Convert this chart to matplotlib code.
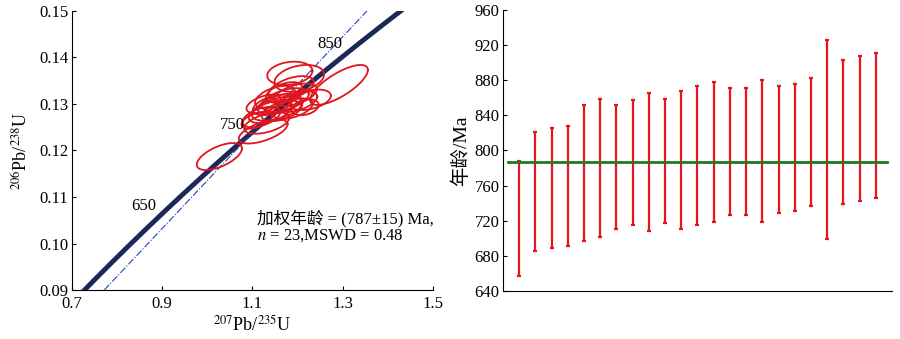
import numpy as np
import matplotlib
matplotlib.use("Agg")
import matplotlib.pyplot as plt

plt.rcParams['font.family'] = ['Liberation Serif', 'Noto Sans CJK SC']
plt.rcParams['mathtext.fontset'] = 'stix'
plt.rcParams['axes.unicode_minus'] = False

# --- left panel: concordia diagram ---
lam238 = 1.55125e-10
lam235 = 9.8485e-10
concordia_ages = [650, 750, 850]  # Ma, labelled points

# error ellipses: centre x (207/235), centre y (206/238), half widths, correlation
ell_x = [1.027, 1.124, 1.132, 1.120, 1.155, 1.140, 1.228, 1.217, 1.173, 1.160, 1.186, 1.183,
         1.204, 1.292, 1.150, 1.195, 1.170, 1.145, 1.200, 1.125, 1.110, 1.190, 1.165]
ell_y = [0.1187, 0.1241, 0.1259, 0.1272, 0.1290, 0.1283, 0.1309, 0.1293, 0.1309, 0.1300, 0.1334, 0.1366,
         0.1355, 0.1341, 0.1315, 0.1320, 0.1325, 0.1298, 0.1305, 0.1300, 0.1265, 0.1290, 0.1285]
ell_sx = [0.050, 0.054, 0.050, 0.042, 0.056, 0.048, 0.046, 0.030, 0.052, 0.048, 0.050, 0.050,
          0.055, 0.064, 0.044, 0.048, 0.040, 0.044, 0.044, 0.038, 0.034, 0.044, 0.044]
ell_sy = [0.0029, 0.0026, 0.0023, 0.0022, 0.0026, 0.0024, 0.0022, 0.0017, 0.0025, 0.0022, 0.0026, 0.0025,
          0.0029, 0.0043, 0.0024, 0.0024, 0.0022, 0.0022, 0.0022, 0.0020, 0.0018, 0.0022, 0.0022]
ell_rho = [0.6, 0.6, 0.5, 0.5, 0.5, 0.5, 0.4, 0.3, 0.5, 0.5, 0.5, 0.2,
           0.3, 0.75, 0.5, 0.5, 0.5, 0.5, 0.5, 0.5, 0.5, 0.5, 0.5]

# regression line (dash-dot)
reg_x = [0.772, 1.354]
reg_y = [0.09, 0.15]

# --- right panel: weighted mean ages ---
age_hi = [788, 821, 826, 828, 852, 859, 852, 857, 866, 859, 868, 874,
          878, 871, 871, 880, 874, 876, 883, 926, 903, 908, 911]
age_lo = [657, 686, 689, 691, 697, 702, 711, 715, 708, 717, 711, 715,
          719, 727, 727, 719, 729, 731, 737, 699, 739, 743, 746]
mean_age = 787

fig = plt.figure(figsize=(9, 3.39), dpi=100)

ax1 = fig.add_axes([0.0797, 0.1445, 0.4013, 0.8231])
t = np.linspace(500, 950, 400) * 1e6
ax1.plot(np.exp(lam235 * t) - 1, np.exp(lam238 * t) - 1, color='#1b2858', lw=3.5, zorder=2)
ax1.plot(reg_x, reg_y, color='#2a3fb8', lw=0.8, ls='-.', zorder=3)

tt = np.linspace(0, 2 * np.pi, 200)
for cx, cy, sx, sy, r in zip(ell_x, ell_y, ell_sx, ell_sy, ell_rho):
    ex = cx + sx * np.cos(tt)
    ey = cy + sy * (r * np.cos(tt) + np.sqrt(1 - r * r) * np.sin(tt))
    ax1.plot(ex, ey, color='#e0161c', lw=1.3, zorder=4)

for a in concordia_ages:
    px = np.exp(lam235 * a * 1e6) - 1
    py = np.exp(lam238 * a * 1e6) - 1
    ax1.annotate(str(a), (px, py), xytext=(-3, 1), textcoords='offset points',
                 ha='right', va='bottom', fontsize=12, zorder=5)

ax1.text(0.513, 0.225, '加权年龄 = (787±15) Ma,\n$n$ = 23,MSWD = 0.48', transform=ax1.transAxes,
         fontsize=12, va='center', ha='left', linespacing=1.0)

ax1.set_xlim(0.7, 1.5)
ax1.set_ylim(0.09, 0.15)
ax1.set_xticks([0.7, 0.9, 1.1, 1.3, 1.5])
ax1.set_yticks([0.09, 0.10, 0.11, 0.12, 0.13, 0.14, 0.15])
ax1.set_xticklabels(['0.7', '0.9', '1.1', '1.3', '1.5'])
ax1.set_yticklabels(['0.09', '0.10', '0.11', '0.12', '0.13', '0.14', '0.15'])
ax1.tick_params(direction='in', length=3, labelsize=12, pad=2.5)
ax1.tick_params(axis='x', pad=4)
ax1.spines['top'].set_visible(False)
ax1.spines['right'].set_visible(False)
ax1.set_xlabel('$^{207}$Pb/$^{235}$U', fontsize=13, labelpad=2)
ax1.set_ylabel('$^{206}$Pb/$^{238}$U', fontsize=13, labelpad=5)

ax2 = fig.add_axes([0.5589, 0.1416, 0.4322, 0.8289])
x = np.arange(1, len(age_hi) + 1)
mid = (np.array(age_hi) + np.array(age_lo)) / 2
half = (np.array(age_hi) - np.array(age_lo)) / 2
ax2.errorbar(x, mid, yerr=half, fmt='none', ecolor='#e8141c', elinewidth=1.6,
             capsize=1.5, capthick=1.6, zorder=2)
ax2.plot([0.3, 23.7], [mean_age, mean_age], color='#1d7a24', lw=2, zorder=3)
ax2.set_xlim(0, 24)
ax2.set_ylim(640, 960)
ax2.set_yticks(np.arange(640, 961, 40))
ax2.set_xticks([])
ax2.tick_params(direction='in', length=3, labelsize=12, pad=2.5)
ax2.spines['top'].set_visible(False)
ax2.spines['right'].set_visible(False)
ax2.set_ylabel('年龄/Ma', fontsize=14, labelpad=3)

fig.savefig('out.png', dpi=100)
